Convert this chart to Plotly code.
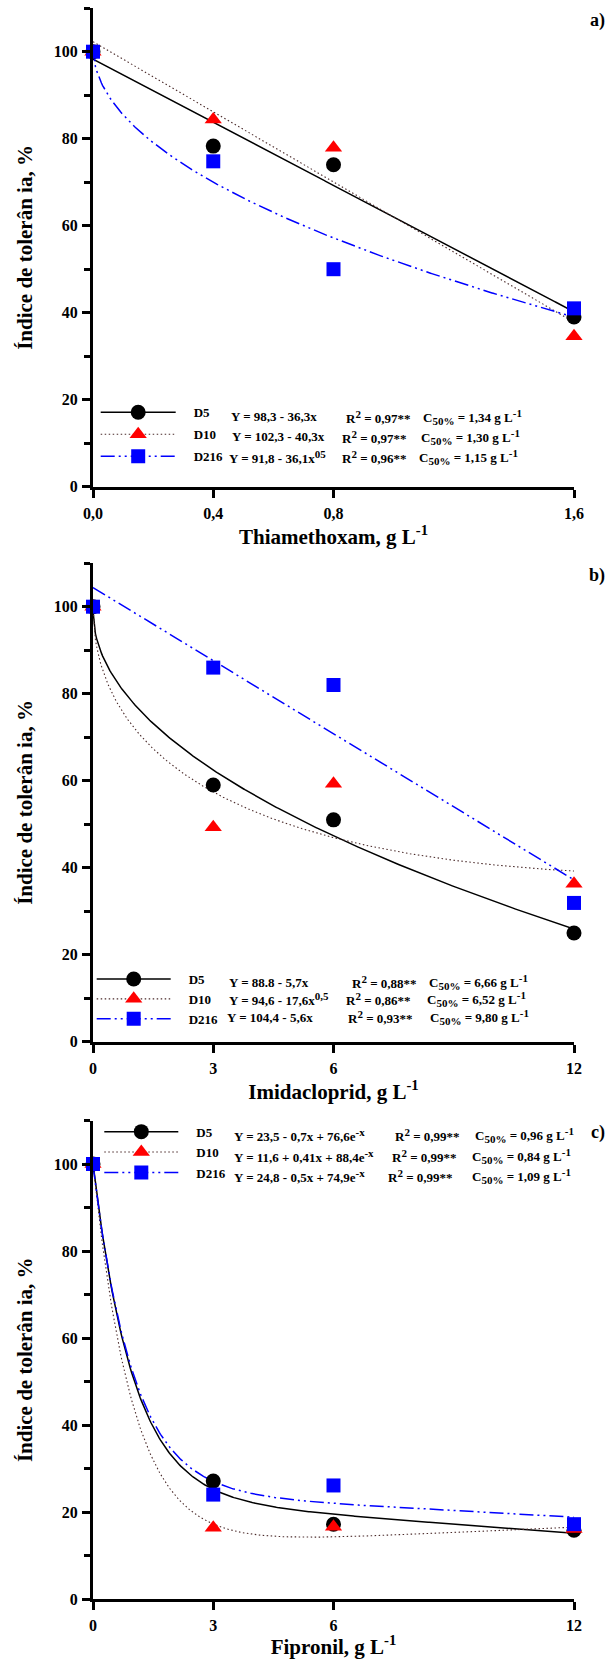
import numpy as np
import plotly.graph_objects as go

# ---------------- data ----------------
x_thia = [0, 0.4, 0.8, 1.6]
x_thia_labels = ["0,0", "0,4", "0,8", "1,6"]
x_imi = [0, 3, 6, 12]
x_imi_labels = ["0", "3", "6", "12"]
x_fip = [0, 3, 6, 12]
x_fip_labels = ["0", "3", "6", "12"]

thia_d5 = [100, 78.3, 74.0, 39.0]
thia_d10 = [100, 84.4, 77.9, 34.6]
thia_d216 = [100, 74.8, 50.0, 41.0]

imi_d5 = [100, 59.0, 51.0, 25.0]
imi_d10 = [100, 49.3, 59.3, 36.3]
imi_d216 = [100, 86.0, 82.0, 31.9]

fip_d5 = [100, 27.1, 17.2, 15.8]
fip_d10 = [100, 16.4, 16.6, 16.1]
fip_d216 = [100, 24.0, 26.1, 17.2]

# fitted curve coefficients (model, coefficients) as drawn in the figure
fit_thia_d5 = ("lin", [98.3, -36.3])
fit_thia_d10 = ("lin", [102.3, -40.3])
fit_thia_d216 = ("sqrt", [101.0, -49.0])
fit_imi_d5 = ("sqrt", [99.0, -21.1])
fit_imi_d10 = ("linsqrt", [100.0, 4.07, -31.64])
fit_imi_d216 = ("lin", [104.4, -5.6])
fit_fip_d5 = ("linexp", [23.5, -0.7, 76.6])
fit_fip_d10 = ("linexp", [11.6, 0.41, 88.4])
fit_fip_d216 = ("linexp", [24.8, -0.5, 74.9])

series_names = ["D5", "D10", "D216"]

SUP = "<sup><span style='font-size:11px'>{}</span></sup>"
SUB = "<sub><span style='font-size:11px'>{}</span></sub>"

eq_thia = ["Y = 98,3 - 36,3x", "Y = 102,3 - 40,3x", "Y = 91,8 - 36,1x" + SUP.format("05")]
r2_thia = ["0,97**", "0,97**", "0,96**"]
c50_thia = ["1,34", "1,30", "1,15"]
eq_imi = ["Y = 88.8 - 5,7x", "Y = 94,6 - 17,6x" + SUP.format("0,5"), "Y = 104,4 - 5,6x"]
r2_imi = ["0,88**", "0,86**", "0,93**"]
c50_imi = ["6,66", "6,52", "9,80"]
eq_fip = ["Y = 23,5 - 0,7x + 76,6e" + SUP.format("-x"), "Y = 11,6 + 0,41x + 88,4e" + SUP.format("-x"),
          "Y = 24,8 - 0,5x + 74,9e" + SUP.format("-x")]
r2_fip = ["0,99**", "0,99**", "0,99**"]
c50_fip = ["0,96", "0,84", "1,09"]

x_titles = ["Thiamethoxam, g L<sup>-1</sup>", "Imidacloprid, g L<sup>-1</sup>", "Fipronil, g L<sup>-1</sup>"]
y_title = "Índice de tolerân ia, %"
panel_labels = ["a)", "b)", "c)"]

# ---------------- style ----------------
FONT = "Liberation Serif, Times New Roman, serif"
styles = [
    dict(line=dict(color="black", width=1.5, dash="solid"),
         marker=dict(symbol="circle", color="black", size=15)),
    dict(line=dict(color="#4a2a2a", width=1.1, dash="1.5px,2.5px"),
         marker=dict(symbol="triangle-up", color="#FF0000", size=15)),
    dict(line=dict(color="#0000FF", width=1.5, dash="14px,4px,2px,4px,2px,4px"),
         marker=dict(symbol="square", color="#0000FF", size=14)),
]


def model(fit, x):
    kind, c = fit
    x = np.asarray(x, dtype=float)
    if kind == "lin":
        return c[0] + c[1] * x
    if kind == "sqrt":
        return c[0] + c[1] * np.sqrt(x)
    if kind == "linsqrt":
        return c[0] + c[1] * x + c[2] * np.sqrt(x)
    if kind == "linexp":
        return c[0] + c[1] * x + c[2] * np.exp(-x)


panels = [
    dict(x=x_thia, xl=x_thia_labels, ys=[thia_d5, thia_d10, thia_d216],
         fits=[fit_thia_d5, fit_thia_d10, fit_thia_d216],
         eq=eq_thia, r2=r2_thia, c50=c50_thia, xmax=1.6),
    dict(x=x_imi, xl=x_imi_labels, ys=[imi_d5, imi_d10, imi_d216],
         fits=[fit_imi_d5, fit_imi_d10, fit_imi_d216],
         eq=eq_imi, r2=r2_imi, c50=c50_imi, xmax=12),
    dict(x=x_fip, xl=x_fip_labels, ys=[fip_d5, fip_d10, fip_d216],
         fits=[fit_fip_d5, fit_fip_d10, fit_fip_d216],
         eq=eq_fip, r2=r2_fip, c50=c50_fip, xmax=12),
]

# layout geometry (pixels)
W, H = 610, 1659
ML, MR, MT, MB = 93, 36, 8, 60
PW = W - ML - MR
PH = H - MT - MB
Y0_PX = [486.7, 1041.7, 1599.0]   # pixel of y=0 in each panel
SCALE = 4.35                      # px per y-unit


def py(px):  # pixel y -> paper y
    return (H - MB - px) / PH


def pxx(px):  # pixel x -> domain x
    return (px - ML) / PW


domains = [[py(y0), min(1.0, py(y0 - 110 * SCALE))] for y0 in Y0_PX]

# legend/annotation geometry
legend_left_px = [95.7, 91.7, 99.3]
legend_itemw = [75, 74, 74]
legend_top_px = [397.3, 964.0, 1116.7]
legend_gap = [2.1, 0.0, 0.5]
text_rows_px = [[416.7, 436.7, 456.7], [982.0, 999.0, 1017.0], [1135.0, 1156.0, 1176.0]]
eq_x_px = [[230.7, 231.7, 229.0], [229.0, 229.0, 226.7], [234.0, 234.0, 234.0]]
r2_x_px = [[345.7, 342.0, 341.7], [351.7, 345.7, 348.3], [395.0, 391.7, 388.4]]
c50_x_px = [[423.3, 420.7, 419.0], [429.3, 426.7, 430.0], [475.0, 471.7, 472.3]]

fig = go.Figure()
annotations = []
NB = "\u00a0"

for p, pan in enumerate(panels):
    xa = "x" if p == 0 else f"x{p+1}"
    ya = "y" if p == 0 else f"y{p+1}"
    leg = "legend" if p == 0 else f"legend{p+1}"
    xs = np.linspace(0, pan["xmax"], 400)
    # fitted curves
    for i in range(3):
        fig.add_trace(go.Scatter(x=xs, y=model(pan["fits"][i], xs), mode="lines",
                                 line=styles[i]["line"], xaxis=xa, yaxis=ya,
                                 showlegend=False, hoverinfo="skip"))
    # observed points
    for i in range(3):
        fig.add_trace(go.Scatter(x=pan["x"], y=pan["ys"][i], mode="markers",
                                 marker=styles[i]["marker"], xaxis=xa, yaxis=ya,
                                 cliponaxis=False, showlegend=False))
    # legend entries (line + marker sample)
    for i in range(3):
        fig.add_trace(go.Scatter(x=[None], y=[None], mode="lines+markers",
                                 line=styles[i]["line"], marker=styles[i]["marker"],
                                 xaxis=xa, yaxis=ya, legend=leg,
                                 legendgroup=f"{p}-{i}", showlegend=True,
                                 name=NB * 4 + series_names[i]))
    # equation columns
    for i in range(3):
        yv = (Y0_PX[p] - text_rows_px[p][i]) / SCALE
        for xpx, txt in [(eq_x_px[p][i], pan["eq"][i]),
                         (r2_x_px[p][i], "R" + SUP.format("2") + " = " + pan["r2"][i]),
                         (c50_x_px[p][i], "C" + SUB.format("50%") + " = " + pan["c50"][i]
                          + " g L" + SUP.format("-1"))]:
            annotations.append(dict(text=txt, x=pxx(xpx), xref=f"{xa} domain", y=yv, yref=ya,
                                    xanchor="left", yanchor="middle", showarrow=False,
                                    borderpad=0, borderwidth=0,
                                    font=dict(family=FONT, size=13, color="black", weight="bold")))
    annotations.append(dict(text=panel_labels[p], x=pxx(606), xref=f"{xa} domain", y=107.2, yref=ya,
                            xanchor="right", yanchor="middle", showarrow=False, borderpad=0,
                            font=dict(family=FONT, size=18, color="black", weight="bold")))

    axis_common = dict(showline=True, linewidth=3, linecolor="black", ticks="outside",
                       tickwidth=3, ticklen=8, tickcolor="black", showgrid=False, zeroline=False,
                       tickfont=dict(family=FONT, size=16, color="black", weight="bold"))
    fig.update_layout({
        ("xaxis" if p == 0 else f"xaxis{p+1}"): dict(
            axis_common, domain=[0, 1], range=[0, pan["xmax"]], anchor=ya,
            tickvals=pan["x"], ticktext=pan["xl"], ticklabelstandoff=2,
            title=dict(text=x_titles[p], standoff=0,
                       font=dict(family=FONT, size=21, color="black", weight="bold"))),
        ("yaxis" if p == 0 else f"yaxis{p+1}"): dict(
            axis_common, domain=domains[p], range=[0, 110], anchor=xa,
            tickvals=[0, 20, 40, 60, 80, 100], ticklabelstandoff=1,
            minor=dict(tickvals=[10, 30, 50, 70, 90, 110], ticks="outside", ticklen=6,
                       tickwidth=3, tickcolor="black"),
            title=dict(text=y_title, standoff=16,
                       font=dict(family=FONT, size=21, color="black", weight="bold"))),
        leg: dict(x=pxx(legend_left_px[p]), xanchor="left", xref="paper",
                  y=py(legend_top_px[p]), yanchor="top", yref="paper",
                  bgcolor="rgba(0,0,0,0)", borderwidth=0, itemwidth=legend_itemw[p],
                  traceorder="grouped", tracegroupgap=legend_gap[p],
                  font=dict(family=FONT, size=13, color="black", weight="bold")),
    })

fig.update_layout(width=W, height=H, margin=dict(l=ML, r=MR, t=MT, b=MB, autoexpand=False),
                  paper_bgcolor="white", plot_bgcolor="white", annotations=annotations,
                  showlegend=True)

fig.write_html("out.html", config={"displayModeBar": False},
               post_script="document.body.style.margin='0';")
